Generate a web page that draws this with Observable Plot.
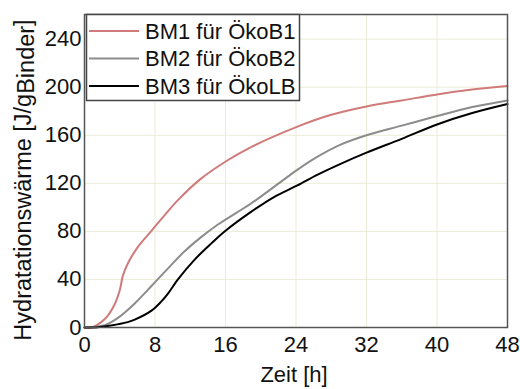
<!DOCTYPE html>
<html>
<head>
<meta charset="utf-8">
<script src="https://cdn.jsdelivr.net/npm/d3@7"></script>
<script src="https://cdn.jsdelivr.net/npm/@observablehq/plot@0.6"></script>
<style>
  body { margin: 0; background: #fff; }
  #chart svg { font-family: "Liberation Sans", Arial, sans-serif; }
</style>
</head>
<body>
<div id="chart"></div>
<script>
const seriesNames = ["BM1 für ÖkoB1", "BM2 für ÖkoB2", "BM3 für ÖkoLB"];
const seriesColors = ["#d07a7a", "#8c8c8c", "#000000"];

const bm1Time = [0, 0.8, 2.3, 3.4, 4, 4.35, 4.9, 6, 7.6, 9.1, 10.6, 13.15, 16.2, 18.85, 24.1, 28, 32, 36, 40, 44, 48];
const bm1Heat = [0, 0, 7, 19, 31, 43, 53, 66.5, 80.5, 93.5, 106, 123.5, 139, 150, 167, 177, 184, 189, 194, 198, 201];

const bm2Time = [0, 1, 2.3, 3.8, 5.7, 7.6, 9.45, 11.3, 13.2, 15.1, 18.85, 21.5, 24.1, 26.4, 29, 32, 36, 40, 44, 48];
const bm2Heat = [0, 0.5, 2, 8, 20, 34.5, 49, 63, 75, 85.5, 103, 117, 131, 142, 152, 160, 168, 176, 183.5, 189];

const bm3Time = [0, 1.5, 3, 4.9, 5.7, 7.6, 8.7, 9.45, 10.6, 12.5, 14.4, 16, 18.85, 21.5, 24.1, 26.4, 29, 32, 36, 40, 44, 48];
const bm3Heat = [0, 0.3, 1.7, 4.5, 6.5, 14, 21.5, 28, 40, 56.5, 70, 80.5, 96, 108.6, 118, 127, 136, 145.5, 157, 169, 178.5, 186];

const xTicks = [0, 8, 16, 24, 32, 40, 48];
const yTicks = [0, 40, 80, 120, 160, 200, 240];

const rows = [];
[[bm1Time, bm1Heat], [bm2Time, bm2Heat], [bm3Time, bm3Heat]].forEach(([ts, vs], i) => {
  ts.forEach((t, j) => rows.push({series: seriesNames[i], t, v: vs[j]}));
});

const W = 520, H = 389;
const plot = Plot.plot({
  width: W,
  height: H,
  marginLeft: 84,
  marginRight: 13,
  marginTop: 14,
  marginBottom: 62,
  style: {fontSize: "22px", fontFamily: "Liberation Sans, Arial, sans-serif", color: "#111", background: "#fff"},
  x: {domain: [0, 48], ticks: xTicks, label: null},
  y: {domain: [0, 260.5], ticks: yTicks, label: null},
  color: {domain: seriesNames, range: seriesColors},
  marks: [
    Plot.gridX(xTicks, {stroke: "#ecebd8", strokeOpacity: 1, strokeWidth: 1}),
    Plot.gridY(yTicks, {stroke: "#ecebd8", strokeOpacity: 1, strokeWidth: 1}),
    Plot.axisX({ticks: xTicks, tickSize: 0, tickPadding: 9, fontSize: 22, label: null}),
    Plot.axisY({ticks: yTicks, tickSize: 0, tickPadding: 3, fontSize: 22, label: null}),
    Plot.line(rows, {x: "t", y: "v", z: "series", stroke: "series", strokeWidth: 2, curve: "catmull-rom"}),
    Plot.frame({stroke: "#555", strokeWidth: 1.5}),
  ]
});
document.getElementById("chart").appendChild(plot);

const svg = d3.select(plot);
// axis labels
svg.append("text")
  .attr("x", 294).attr("y", 382)
  .attr("text-anchor", "middle")
  .attr("font-size", 22).attr("fill", "#111")
  .text("Zeit [h]");
const yl = svg.append("text")
  .attr("transform", "translate(31,180) rotate(-90)")
  .attr("text-anchor", "middle")
  .attr("font-size", 23.5).attr("fill", "#111");
yl.append("tspan").text("Hydratationswärme [J/g");
yl.append("tspan").attr("dy", 3).text("Binder");
yl.append("tspan").attr("dy", -3).text("]");

// legend
const lg = svg.append("g").attr("text-anchor", "start");
lg.append("rect").attr("x", 86.5).attr("y", 14.5).attr("width", 213).attr("height", 86)
  .attr("fill", "#fff").attr("stroke", "#444").attr("stroke-width", 1.5);
seriesNames.forEach((name, i) => {
  const y = 31 + i * 27.5;
  lg.append("line").attr("x1", 89).attr("x2", 139).attr("y1", y).attr("y2", y)
    .attr("stroke", seriesColors[i]).attr("stroke-width", 2);
  lg.append("text").attr("x", 145).attr("y", y).attr("dy", "0.35em")
    .attr("text-anchor", "start")
    .attr("font-size", 22).attr("fill", "#111").text(name);
});
</script>
</body>
</html>
